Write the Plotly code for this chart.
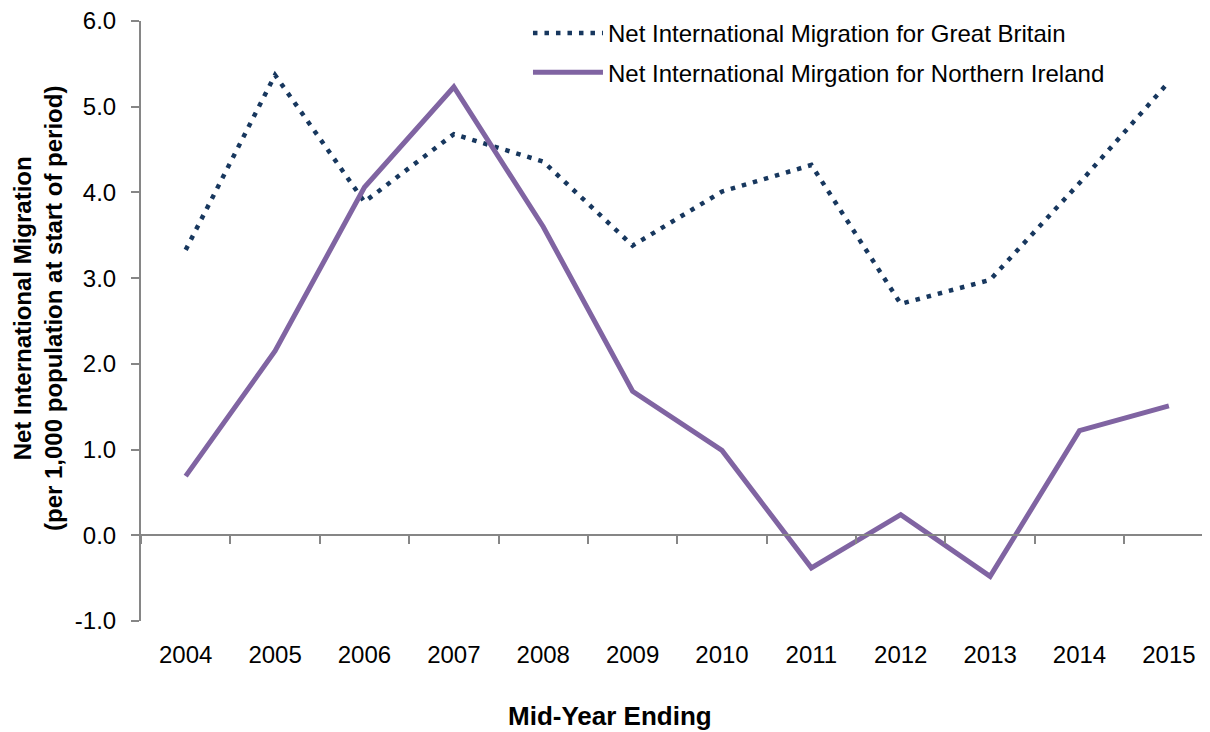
import plotly.graph_objects as go

years = ["2004", "2005", "2006", "2007", "2008", "2009", "2010", "2011", "2012", "2013", "2014", "2015"]
gb_values = [3.33, 5.37, 3.89, 4.68, 4.36, 3.38, 4.01, 4.32, 2.70, 2.98, 4.11, 5.29]
ni_values = [0.69, 2.15, 4.06, 5.23, 3.60, 1.68, 0.99, -0.38, 0.24, -0.48, 1.22, 1.51]
y_ticks = [-1, 0, 1, 2, 3, 4, 5, 6]
y_tick_labels = ["-1.0", "0.0", "1.0", "2.0", "3.0", "4.0", "5.0", "6.0"]

gb_name = "Net International Migration for Great Britain"
ni_name = "Net International Mirgation for Northern Ireland"

FONT = "Liberation Sans, Arial, sans-serif"
AXIS_GRAY = "#868686"

fig = go.Figure()
fig.add_trace(go.Scatter(
    x=years, y=gb_values, mode="lines", name=gb_name, legendgroup="gb",
    line=dict(color="#17375E", width=4.5, dash="4.5px,7px"),
))
fig.add_trace(go.Scatter(
    x=years, y=ni_values, mode="lines", name=ni_name, legendgroup="ni",
    line=dict(color="#8064A2", width=5),
))
# invisible trace carrying the category axis drawn through zero
fig.add_trace(go.Scatter(
    x=years, y=[None] * len(years), xaxis="x2", showlegend=False,
    hoverinfo="skip", mode="lines",
))

fig.update_layout(
    width=1202, height=724,
    margin=dict(l=133, r=0, t=13, b=111),
    paper_bgcolor="white", plot_bgcolor="white",
    font=dict(family=FONT, size=24, color="#000000"),
    showlegend=True,
    legend=dict(
        x=0.362, y=1.0167, xanchor="left", yanchor="top",
        font=dict(size=24, color="#000000"),
        bgcolor="rgba(0,0,0,0)", tracegroupgap=5, itemwidth=70,
    ),
    xaxis=dict(
        type="category", range=[-0.5, 11.46],
        showline=False, showgrid=False, zeroline=False,
        ticks="", tickfont=dict(size=24), ticklabelstandoff=17,
        ticklabeloverflow="allow",
    ),
    xaxis2=dict(
        type="category", overlaying="x", matches="x", anchor="free",
        position=1 / 7, side="bottom",
        showline=True, linecolor=AXIS_GRAY, linewidth=2,
        ticks="outside", tickson="boundaries", ticklen=8, tickwidth=2,
        tickcolor=AXIS_GRAY, showticklabels=False, showgrid=False,
    ),
    yaxis=dict(
        range=[-1, 6], tickmode="array", tickvals=y_ticks, ticktext=y_tick_labels,
        showline=True, linecolor=AXIS_GRAY, linewidth=2,
        ticks="outside", ticklen=8, tickwidth=2, tickcolor=AXIS_GRAY,
        showgrid=False, zeroline=False, tickfont=dict(size=24),
        ticklabelstandoff=10, ticklabeloverflow="allow",
    ),
)

fig.add_annotation(
    text="<b>Net International Migration</b><br><b>(per 1,000 population at start of period)</b>",
    xref="paper", yref="paper", x=0, y=0.52, xanchor="center", yanchor="middle",
    xshift=-103, textangle=-90, showarrow=False,
    font=dict(size=24, color="#000000"),
)
fig.add_annotation(
    text="<b>Mid-Year Ending</b>",
    xref="paper", yref="paper", x=0.439, y=0, xanchor="center", yanchor="middle",
    yshift=-95, showarrow=False,
    font=dict(size=26, color="#000000"),
)

fig.write_html("out.html")
